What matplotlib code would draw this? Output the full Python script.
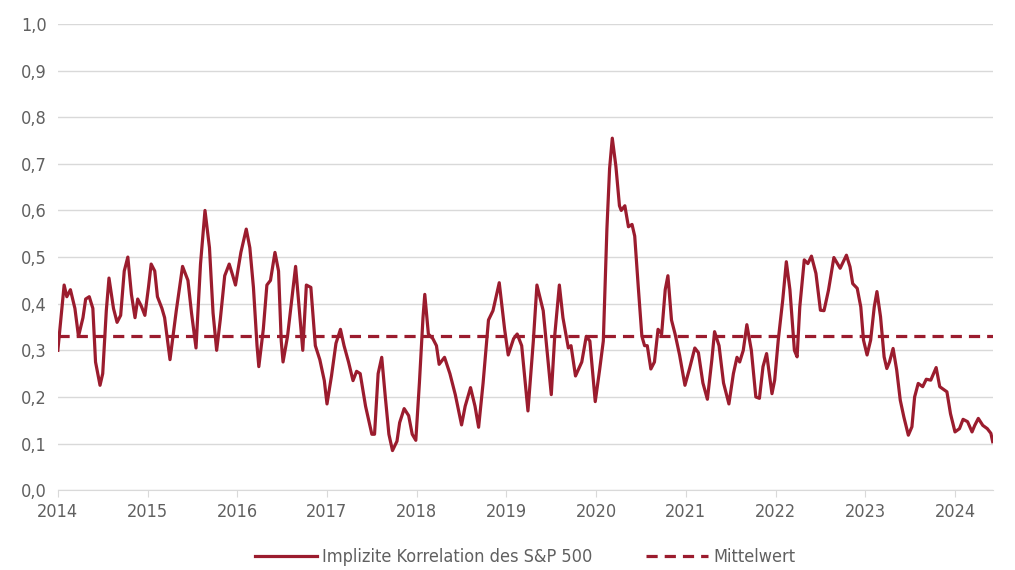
import matplotlib
matplotlib.use('Agg')
import matplotlib.pyplot as plt
from matplotlib.ticker import FuncFormatter

# decimal years and implied correlation values
years = [
    2014.00, 2014.04, 2014.07, 2014.10, 2014.14, 2014.19, 2014.23, 2014.28, 2014.31, 2014.35,
    2014.39, 2014.42, 2014.47, 2014.50, 2014.54, 2014.57, 2014.62, 2014.66, 2014.70, 2014.74,
    2014.78, 2014.82, 2014.86, 2014.89, 2014.93, 2014.97, 2015.01, 2015.04, 2015.08, 2015.11,
    2015.16, 2015.19, 2015.25, 2015.32, 2015.39, 2015.45, 2015.49, 2015.54, 2015.59, 2015.64,
    2015.69, 2015.73, 2015.77, 2015.81, 2015.86, 2015.91, 2015.95, 2015.98, 2016.04, 2016.10,
    2016.14, 2016.18, 2016.22, 2016.24, 2016.29, 2016.33, 2016.37, 2016.42, 2016.46, 2016.49,
    2016.51, 2016.56, 2016.59, 2016.65, 2016.69, 2016.73, 2016.77, 2016.82, 2016.87, 2016.92,
    2016.97, 2017.00, 2017.05, 2017.10, 2017.15, 2017.19, 2017.24, 2017.29, 2017.33, 2017.37,
    2017.43, 2017.50, 2017.53, 2017.57, 2017.61, 2017.65, 2017.69, 2017.73, 2017.78, 2017.81,
    2017.86, 2017.91, 2017.95, 2017.99, 2018.03, 2018.07, 2018.09, 2018.13, 2018.18, 2018.22,
    2018.25, 2018.31, 2018.37, 2018.43, 2018.50, 2018.54, 2018.60, 2018.65, 2018.69, 2018.74,
    2018.80, 2018.85, 2018.92, 2018.98, 2019.02, 2019.08, 2019.12, 2019.17, 2019.24, 2019.30,
    2019.34, 2019.41, 2019.50, 2019.54, 2019.59, 2019.63, 2019.69, 2019.72, 2019.77, 2019.84,
    2019.89, 2019.93, 2019.99, 2020.04, 2020.08, 2020.12, 2020.15, 2020.18, 2020.22, 2020.26,
    2020.28, 2020.32, 2020.36, 2020.40, 2020.43, 2020.47, 2020.51, 2020.54, 2020.57, 2020.61,
    2020.65, 2020.69, 2020.73, 2020.77, 2020.80, 2020.84, 2020.88, 2020.93, 2020.99, 2021.04,
    2021.10, 2021.14, 2021.19, 2021.24, 2021.29, 2021.32, 2021.37, 2021.42, 2021.48, 2021.53,
    2021.57, 2021.60, 2021.64, 2021.68, 2021.73, 2021.78, 2021.82, 2021.86, 2021.90, 2021.96,
    2021.99, 2022.03, 2022.08, 2022.12, 2022.16, 2022.21, 2022.24, 2022.27, 2022.32, 2022.36,
    2022.40, 2022.45, 2022.50, 2022.54, 2022.59, 2022.65, 2022.72, 2022.79, 2022.83, 2022.86,
    2022.91, 2022.95, 2022.98, 2023.02, 2023.06, 2023.10, 2023.13, 2023.17, 2023.21, 2023.24,
    2023.27, 2023.31, 2023.35, 2023.39, 2023.43, 2023.48, 2023.52, 2023.55, 2023.59, 2023.64,
    2023.68, 2023.73, 2023.79, 2023.83, 2023.91, 2023.95, 2024.00, 2024.05, 2024.09, 2024.14,
    2024.19, 2024.22, 2024.26, 2024.31, 2024.36, 2024.40, 2024.42,
]
correlation = [
    0.30, 0.38, 0.44, 0.415, 0.43, 0.39, 0.33, 0.37, 0.41, 0.415,
    0.39, 0.275, 0.225, 0.25, 0.385, 0.455, 0.39, 0.36, 0.375, 0.47,
    0.50, 0.42, 0.37, 0.41, 0.395, 0.375, 0.435, 0.485, 0.47, 0.415,
    0.39, 0.37, 0.28, 0.385, 0.48, 0.45, 0.38, 0.305, 0.485, 0.60,
    0.52, 0.38, 0.30, 0.365, 0.46, 0.485, 0.46, 0.44, 0.51, 0.56,
    0.52, 0.435, 0.31, 0.265, 0.345, 0.44, 0.45, 0.51, 0.47, 0.32,
    0.275, 0.33, 0.38, 0.48, 0.39, 0.30, 0.44, 0.435, 0.31, 0.28,
    0.235, 0.185, 0.245, 0.315, 0.345, 0.31, 0.275, 0.235, 0.255, 0.25,
    0.18, 0.12, 0.12, 0.25, 0.285, 0.20, 0.12, 0.085, 0.105, 0.145,
    0.175, 0.16, 0.12, 0.107, 0.23, 0.37, 0.42, 0.335, 0.325, 0.31,
    0.27, 0.285, 0.25, 0.205, 0.14, 0.18, 0.22, 0.18, 0.135, 0.23,
    0.365, 0.385, 0.445, 0.345, 0.29, 0.325, 0.335, 0.31, 0.17, 0.32,
    0.44, 0.385, 0.205, 0.335, 0.44, 0.37, 0.305, 0.31, 0.245, 0.275,
    0.33, 0.32, 0.19, 0.26, 0.32, 0.56, 0.69, 0.755, 0.695, 0.61,
    0.60, 0.61, 0.565, 0.57, 0.545, 0.435, 0.33, 0.31, 0.31, 0.26,
    0.275, 0.345, 0.335, 0.43, 0.46, 0.365, 0.335, 0.29, 0.225, 0.26,
    0.305, 0.295, 0.23, 0.195, 0.28, 0.34, 0.31, 0.23, 0.185, 0.25,
    0.285, 0.275, 0.30, 0.355, 0.30, 0.20, 0.197, 0.265, 0.293, 0.207,
    0.236, 0.322, 0.408, 0.49, 0.43, 0.30, 0.286, 0.393, 0.494, 0.486,
    0.502, 0.465, 0.386, 0.385, 0.429, 0.499, 0.476, 0.504, 0.479, 0.443,
    0.433, 0.393, 0.322, 0.29, 0.322, 0.393, 0.426, 0.372, 0.286, 0.261,
    0.275, 0.304, 0.258, 0.193, 0.157, 0.118, 0.136, 0.20, 0.229, 0.222,
    0.238, 0.236, 0.263, 0.222, 0.211, 0.164, 0.125, 0.132, 0.152, 0.147,
    0.125, 0.139, 0.154, 0.139, 0.132, 0.122, 0.104,
]
mean_value = 0.33
year_ticks = list(range(2014, 2025))
y_ticks = [i / 10 for i in range(11)]

RED = '#9b1c2e'
GREY = '#606060'

plt.rcParams['font.family'] = ['DejaVu Sans']
plt.rcParams['font.stretch'] = 'condensed'

fig = plt.figure(figsize=(10.15, 5.7), dpi=100)
ax = fig.add_axes([0.057, 0.14, 0.921, 0.818])

ax.plot(years, correlation, color=RED, lw=2.3, solid_joinstyle='round',
        label='Implizite Korrelation des S&P 500')
ax.plot([years[0], years[-1]], [mean_value, mean_value], color=RED, lw=2.3,
        ls=(0, (3.5, 2.2)), label='Mittelwert')

ax.set_xlim(2014, 2024.42)
ax.set_ylim(0, 1.0)
ax.set_yticks(y_ticks)
ax.set_xticks(year_ticks)
ax.yaxis.set_major_formatter(FuncFormatter(lambda v, p: f'{v:.1f}'.replace('.', ',')))
ax.grid(axis='y', color='#d9d9d9', lw=1)
ax.set_axisbelow(True)
for s in ['top', 'right', 'left']:
    ax.spines[s].set_visible(False)
ax.spines['bottom'].set_color('#d9d9d9')
ax.tick_params(axis='y', length=0, pad=8, labelsize=13, labelcolor=GREY)
ax.tick_params(axis='x', length=5, color='#d9d9d9', pad=4, labelsize=13, labelcolor=GREY)

ax.legend(loc='upper center', bbox_to_anchor=(0.5, -0.09), ncol=2, frameon=False,
          fontsize=13, labelcolor=GREY, handlelength=3.4, columnspacing=3, handletextpad=0.3)

fig.savefig('out.png', dpi=100)
